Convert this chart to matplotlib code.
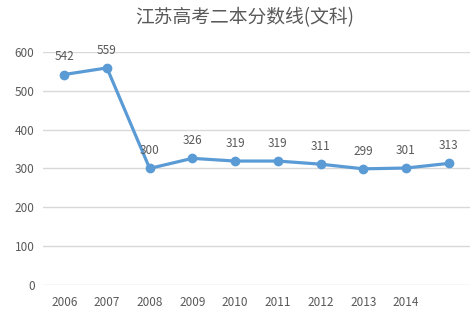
import matplotlib
matplotlib.use('Agg')
import matplotlib.pyplot as plt

plt.rcParams['font.family'] = ['Noto Sans CJK SC', 'DejaVu Sans']

years = ['2006', '2007', '2008', '2009', '2010', '2011', '2012', '2013', '2014', '']
scores = [542, 559, 300, 326, 319, 319, 311, 299, 301, 313]
yticks = [0, 100, 200, 300, 400, 500, 600]

blue = '#5b9bd5'
grey = '#595959'

fig = plt.figure(figsize=(4.71, 3.19), dpi=100)
ax = fig.add_axes([0.091, 0.107, 0.907, 0.730])

x = range(len(scores))
ax.plot(x, scores, color=blue, lw=2.3, marker='o', ms=6, zorder=3)
for i, v in enumerate(scores):
    ax.annotate(str(v), (i, v), xytext=(0, 8), textcoords='offset points',
                ha='center', va='bottom', fontsize=8.5, color=grey)

ax.set_xlim(-0.5, len(scores) - 0.5)
ax.set_ylim(0, 600)
ax.set_yticks(yticks)
ax.set_xticks(list(x))
ax.set_xticklabels(years)
ax.yaxis.grid(True, color='#d9d9d9', lw=1)
ax.set_axisbelow(True)
for s in ax.spines.values():
    s.set_visible(False)
ax.tick_params(length=0, labelsize=8.5, colors=grey, pad=6)
ax.tick_params(axis='x', pad=8)

fig.text(0.52, 0.945, '江苏高考二本分数线(文科)', ha='center', va='center',
         fontsize=13.5, color=grey)

fig.savefig('out.png', dpi=100)
